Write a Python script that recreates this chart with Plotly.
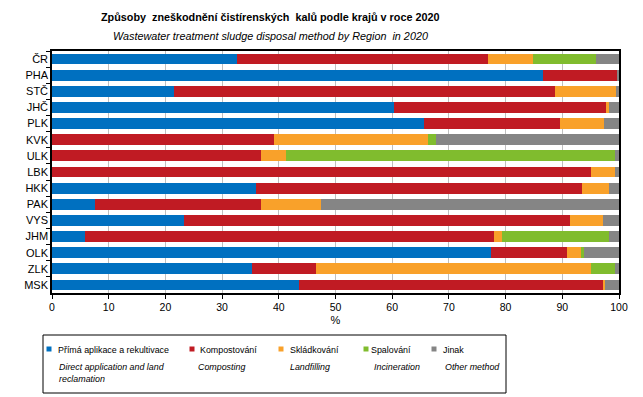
import plotly.graph_objects as go

regions = ["ČR", "PHA", "STČ", "JHČ", "PLK", "KVK", "ULK", "LBK", "HKK", "PAK", "VYS", "JHM", "OLK", "ZLK", "MSK"]
direct = [32.7, 86.6, 21.5, 60.3, 65.6, 0, 0, 0, 35.9, 7.6, 23.2, 5.8, 77.4, 35.2, 43.6]
compost = [44.2, 13.1, 67.2, 37.4, 24.0, 39.1, 36.9, 95.1, 57.6, 29.3, 68.2, 72.2, 13.4, 11.3, 53.6]
landfill = [7.9, 0, 10.8, 0.5, 7.8, 27.2, 4.4, 4.2, 4.7, 10.5, 5.8, 1.4, 2.5, 48.6, 0.3]
incin = [11.1, 0, 0, 0, 0, 1.4, 58.0, 0, 0, 0, 0, 18.8, 0.5, 4.2, 0]
other = [4.1, 0.3, 0.5, 1.8, 2.6, 32.3, 0.7, 0.7, 1.8, 52.6, 2.8, 1.8, 6.2, 0.7, 2.5]

names_cz = ["Přímá aplikace a rekultivace", "Kompostování", "Skládkování", "Spalování", "Jinak"]
names_en = ["Direct application and land<br>reclamation", "Composting", "Landfilling", "Incineration", "Other method"]
colors = ["#0070C0", "#C01B23", "#F9A12A", "#80BC2E", "#858585"]
xticks = [0, 10, 20, 30, 40, 50, 60, 70, 80, 90, 100]

FONT = "Liberation Sans, Arial, sans-serif"

fig = go.Figure()
for vals, nm, col in zip([direct, compost, landfill, incin, other], names_cz, colors):
    fig.add_trace(go.Bar(y=regions, x=vals, orientation="h", name=nm,
                         marker=dict(color=col, line=dict(width=0)), width=0.67,
                         showlegend=False))

# page body has an 8px offset; margins are compensated for it
fig.update_layout(
    barmode="stack",
    width=635, height=389,
    margin=dict(l=44, r=24, t=43, b=104),
    paper_bgcolor="white", plot_bgcolor="white",
    font=dict(family=FONT, size=11, color="black"),
    xaxis=dict(range=[0, 100], tickvals=xticks, showgrid=True, gridcolor="#BFBFBF", gridwidth=1,
               showline=True, linecolor="black", linewidth=1.5, mirror=True,
               ticks="outside", ticklen=4, tickcolor="black", zeroline=False,
               tickfont=dict(size=10.5, family=FONT),
               title=dict(text="%", font=dict(size=11), standoff=4)),
    yaxis=dict(categoryorder="array", categoryarray=regions, autorange="reversed",
               showline=True, linecolor="black", linewidth=1.5, mirror=True,
               ticks="outside", ticklen=4, tickcolor="black", tickson="boundaries",
               showgrid=False, tickfont=dict(size=11, family=FONT)),
)


def px_to_paper_x(px):
    return (px - 52) / (619 - 52)


def px_to_paper_y(py):
    return (293 - py) / (293 - 51)


fig.add_annotation(x=px_to_paper_x(270), y=px_to_paper_y(17), xref="paper", yref="paper",
                   showarrow=False, yanchor="middle", xanchor="center",
                   text="<b>Způsoby  zneškodnění čistírenských  kalů podle krajů v roce 2020</b>",
                   font=dict(size=10.8, family=FONT))
fig.add_annotation(x=px_to_paper_x(270), y=px_to_paper_y(36), xref="paper", yref="paper",
                   showarrow=False, yanchor="middle", xanchor="center",
                   text="<i>Wastewater treatment sludge disposal method by Region  in 2020</i>",
                   font=dict(size=10.8, family=FONT))

# legend box
fig.add_shape(type="rect", xref="paper", yref="paper",
              x0=px_to_paper_x(43), x1=px_to_paper_x(506),
              y0=px_to_paper_y(335), y1=px_to_paper_y(393),
              line=dict(color="black", width=1), fillcolor="white")

sq_x = [49, 192, 281, 366, 434]
tx_x = [56, 198, 288, 369, 441]
en_x = [57, 196, 288, 372, 443]
for i in range(5):
    fig.add_shape(type="rect", xref="paper", yref="paper",
                  x0=px_to_paper_x(sq_x[i] - 2.5), x1=px_to_paper_x(sq_x[i] + 2.5),
                  y0=px_to_paper_y(349 - 2.5), y1=px_to_paper_y(349 + 2.5),
                  line=dict(width=0), fillcolor=colors[i])
    fig.add_annotation(x=px_to_paper_x(tx_x[i]), y=px_to_paper_y(349.5), xref="paper", yref="paper",
                       xanchor="left", yanchor="middle", showarrow=False, align="left",
                       text=names_cz[i], font=dict(size=8.9, family=FONT))
    fig.add_annotation(x=px_to_paper_x(en_x[i]), y=px_to_paper_y(360), xref="paper", yref="paper",
                       xanchor="left", yanchor="top", showarrow=False, align="left",
                       text="<i>" + names_en[i] + "</i>", font=dict(size=8.9, family=FONT))

fig.write_html("out.html")
